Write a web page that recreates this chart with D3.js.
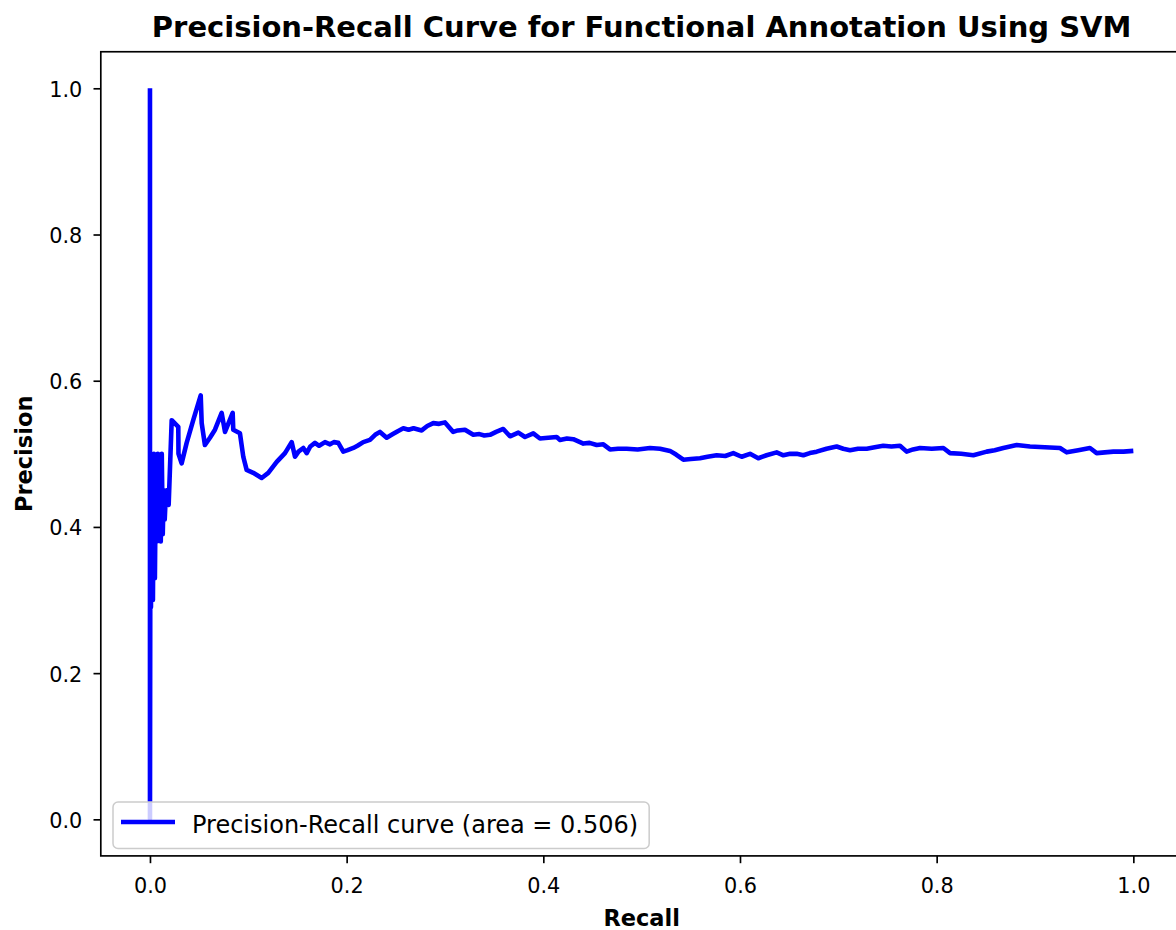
<!DOCTYPE html>
<html>
<head>
<meta charset="utf-8">
<script src="https://cdn.jsdelivr.net/npm/d3@7"></script>
<style>
  body { margin: 0; background: #fff; }
  svg { display: block; font-family: "DejaVu Sans", sans-serif; }
</style>
</head>
<body>
<div id="chart"></div>
<script>
// values, left to right
var recall = [0, 0, 0.0005, 0.001, 0.002, 0.003, 0.004, 0.005, 0.006, 0.007, 0.008, 0.009, 0.010, 0.011,
  0.012, 0.013, 0.014, 0.015, 0.016, 0.017, 0.019, 0.0221, 0.0288, 0.029, 0.0322, 0.0373, 0.044, 0.0516,
  0.0526, 0.0559, 0.061, 0.0661, 0.0729, 0.0763, 0.0841, 0.0847, 0.0915, 0.0949, 0.0983, 0.105, 0.1136,
  0.1203, 0.1289, 0.1373, 0.1441, 0.1475, 0.151, 0.1559, 0.1594, 0.163, 0.1678, 0.172, 0.178, 0.1831,
  0.187, 0.1915, 0.1966, 0.201, 0.2068, 0.211, 0.2169, 0.2237, 0.229, 0.2339, 0.2407, 0.247, 0.252,
  0.2576, 0.263, 0.268, 0.2763, 0.282, 0.2881, 0.294, 0.300, 0.3084, 0.313, 0.3203, 0.3288, 0.335,
  0.340, 0.3458, 0.352, 0.3593, 0.3661, 0.3746, 0.3814, 0.3898, 0.3966, 0.405, 0.4136, 0.417, 0.424,
  0.4305, 0.4407, 0.447, 0.4543, 0.461, 0.4678, 0.476, 0.4848, 0.496, 0.5085, 0.5187, 0.5288, 0.535,
  0.5424, 0.550, 0.5593, 0.567, 0.5763, 0.585, 0.5932, 0.6017, 0.6102, 0.6186, 0.627, 0.6373, 0.6441,
  0.651, 0.6577, 0.6644, 0.671, 0.678, 0.688, 0.6983, 0.705, 0.7119, 0.72, 0.7289, 0.737, 0.7457,
  0.754, 0.7627, 0.7695, 0.776, 0.7831, 0.795, 0.8068, 0.8136, 0.825, 0.8373, 0.8509, 0.859, 0.8678,
  0.8814, 0.8949, 0.91, 0.9254, 0.9323, 0.944, 0.9559, 0.9627, 0.971, 0.9797, 0.99, 1.0];
var precision = [1.0, 0.0, 0.50, 0.29, 0.48, 0.30, 0.50, 0.33, 0.47, 0.38, 0.50, 0.39, 0.45, 0.38,
  0.50, 0.39, 0.45, 0.41, 0.44, 0.45, 0.43, 0.546, 0.537, 0.50, 0.487, 0.515, 0.546, 0.580,
  0.542, 0.512, 0.522, 0.533, 0.556, 0.530, 0.556, 0.533, 0.528, 0.496, 0.478, 0.474, 0.467,
  0.474, 0.489, 0.501, 0.516, 0.496, 0.503, 0.508, 0.501, 0.510, 0.515, 0.511, 0.516, 0.513,
  0.516, 0.515, 0.503, 0.505, 0.508, 0.511, 0.516, 0.519, 0.526, 0.530, 0.522, 0.527, 0.531,
  0.535, 0.533, 0.535, 0.532, 0.538, 0.542, 0.541, 0.543, 0.530, 0.532, 0.533, 0.526, 0.527,
  0.525, 0.526, 0.530, 0.534, 0.524, 0.529, 0.523, 0.528, 0.521, 0.522, 0.523, 0.519, 0.521,
  0.520, 0.514, 0.515, 0.512, 0.513, 0.506, 0.507, 0.507, 0.506, 0.508, 0.507, 0.504, 0.499,
  0.492, 0.493, 0.494, 0.496, 0.498, 0.497, 0.501, 0.496, 0.500, 0.494, 0.498, 0.502, 0.498,
  0.500, 0.500, 0.498, 0.501, 0.503, 0.507, 0.510, 0.507, 0.505, 0.507, 0.507, 0.509, 0.511,
  0.510, 0.511, 0.503, 0.506, 0.508, 0.507, 0.508, 0.501, 0.500, 0.498, 0.503, 0.505, 0.508,
  0.512, 0.510, 0.509, 0.508, 0.502, 0.505, 0.508, 0.501, 0.502, 0.503, 0.503, 0.504];
var xTicks = [0.0, 0.2, 0.4, 0.6, 0.8, 1.0];
var yTicks = [0.0, 0.2, 0.4, 0.6, 0.8, 1.0];
var legendLabel = 'Precision-Recall curve (area = 0.506)';

var W = 1176, H = 930;
// axes box (right edge runs past the picture, as in the original)
var axL = 100.8, axR = 1182.5, axT = 51.75, axB = 855.9;
var tickFont = 20.8, tickLen = 7.3, spineW = 1.67, lineW = 4.6;

var svg = d3.select('#chart').append('svg').attr('width', W).attr('height', H);

var x = d3.scaleLinear().domain([-0.05, 1.05]).range([axL, axR]);
var y = d3.scaleLinear().domain([-0.05, 1.05]).range([axB, axT]);

// clip to the axes box
svg.append('clipPath').attr('id', 'clip')
  .append('rect').attr('x', axL).attr('y', axT).attr('width', axR - axL).attr('height', axB - axT);

var pts = recall.map(function (r, i) { return [r, precision[i]]; });
var line = d3.line().x(function (d) { return x(d[0]); }).y(function (d) { return y(d[1]); });

svg.append('path').datum(pts)
  .attr('clip-path', 'url(#clip)')
  .attr('d', line)
  .attr('fill', 'none')
  .attr('stroke', '#0000ff')
  .attr('stroke-width', lineW)
  .attr('stroke-linejoin', 'round');

// x axis
var xAxis = svg.append('g').attr('transform', 'translate(0,' + axB + ')')
  .call(d3.axisBottom(x).tickValues(xTicks).tickFormat(d3.format('.1f')).tickSize(tickLen).tickSizeOuter(0));
xAxis.select('.domain').remove();
xAxis.selectAll('line').attr('stroke', '#000').attr('stroke-width', spineW);
xAxis.selectAll('text').attr('y', 36.8).attr('dy', 0)
  .attr('font-size', tickFont).attr('fill', '#000').attr('font-family', 'DejaVu Sans');

// y axis
var yAxis = svg.append('g').attr('transform', 'translate(' + axL + ',0)')
  .call(d3.axisLeft(y).tickValues(yTicks).tickFormat(d3.format('.1f')).tickSize(tickLen).tickSizeOuter(0));
yAxis.select('.domain').remove();
yAxis.selectAll('line').attr('stroke', '#000').attr('stroke-width', spineW);
yAxis.selectAll('text').attr('x', -18.5).attr('dy', '0.38em')
  .attr('font-size', tickFont).attr('fill', '#000').attr('font-family', 'DejaVu Sans');

// spines
svg.append('rect').attr('x', axL).attr('y', axT).attr('width', axR - axL).attr('height', axB - axT)
  .attr('fill', 'none').attr('stroke', '#000').attr('stroke-width', spineW);

// legend, lower left
var lg = svg.append('g');
var lgBox = lg.append('rect').attr('x', 113).attr('y', 802).attr('height', 46.5)
  .attr('rx', 5).attr('ry', 5)
  .attr('fill', 'rgba(255,255,255,0.8)').attr('stroke', '#cccccc').attr('stroke-width', 1.5);
lg.append('line').attr('x1', 121).attr('x2', 175).attr('y1', 822).attr('y2', 822)
  .attr('stroke', '#0000ff').attr('stroke-width', lineW);
var lgText = lg.append('text').attr('x', 192).attr('y', 833)
  .attr('font-size', 24).attr('fill', '#000').text(legendLabel);
lgBox.attr('width', 192 + lgText.node().getComputedTextLength() + 11 - 113);

// labels
svg.append('text').attr('x', (axL + axR) / 2).attr('y', 36.7)
  .attr('text-anchor', 'middle').attr('font-size', 29).attr('font-weight', 'bold')
  .text('Precision-Recall Curve for Functional Annotation Using SVM');
svg.append('text').attr('x', (axL + axR) / 2).attr('y', 926)
  .attr('text-anchor', 'middle').attr('font-size', 22.5).attr('font-weight', 'bold')
  .text('Recall');
svg.append('text').attr('transform', 'translate(31.7,' + (axT + axB) / 2 + ') rotate(-90)')
  .attr('text-anchor', 'middle').attr('font-size', 22.5).attr('font-weight', 'bold')
  .text('Precision');
</script>
</body>
</html>
